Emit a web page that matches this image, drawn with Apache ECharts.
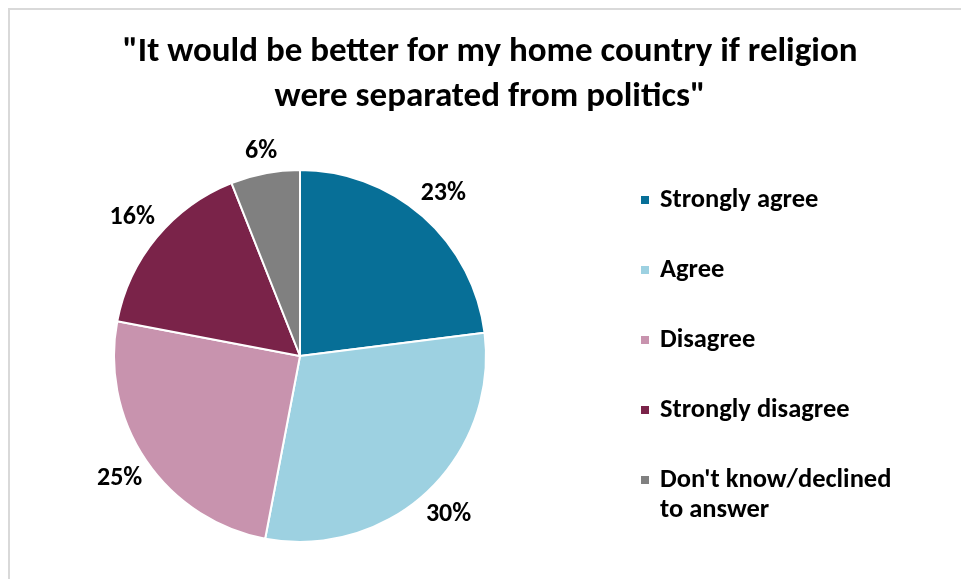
<!DOCTYPE html>
<html>
<head>
<meta charset="utf-8">
<script src="https://cdn.jsdelivr.net/npm/echarts@6/dist/echarts.min.js"></script>
<style>
  html, body { margin: 0; padding: 0; background: #ffffff; }
  #chart { width: 961px; height: 579px; }
</style>
</head>
<body>
<div id="chart"></div>
<script>
// Survey answers, in percent
const categories = ['Strongly agree', 'Agree', 'Disagree', 'Strongly disagree', "Don't know/declined to answer"];
const values = [23, 30, 25, 16, 6];
const colors = ['#076f97', '#9dd1e1', '#c893ae', '#7a2349', '#808080'];
const titleLines = ['"It would be better for my home country if religion', 'were separated from politics"'];

const FONT = 'Carlito, Lato, "Open Sans", sans-serif';
const pieCenter = [300, 356];
const pieRadius = 186;

// mid angle of each slice, measured clockwise from 12 o'clock
const total = values.reduce((a, b) => a + b, 0);
const midAngles = [];
let acc = 0;
values.forEach(v => { midAngles.push((acc + v / 2) / total * 2 * Math.PI); acc += v; });

const chart = echarts.init(document.getElementById('chart'), null, { renderer: 'canvas' });

const legendText = {
  color: '#000000', fontFamily: FONT, fontWeight: 'bold', fontSize: 26.5, lineHeight: 30,
  padding: [0, 0, 0, 5]
};

chart.setOption({
  backgroundColor: '#ffffff',
  animation: false,
  color: colors,
  title: {
    text: titleLines.join('\n'),
    left: 490,
    top: 30,
    textAlign: 'center',
    padding: 0,
    textStyle: { color: '#000000', fontFamily: FONT, fontWeight: 'bold', fontSize: 35, lineHeight: 45 }
  },
  graphic: [{
    type: 'rect',
    shape: { x: 9, y: 9, width: 1200, height: 1200 },
    style: { fill: 'none', stroke: '#d9d9d9', lineWidth: 2 },
    silent: true
  }],
  legend: [{
    orient: 'vertical',
    left: 639,
    top: 185,
    padding: 0,
    itemGap: 40,
    itemWidth: 10,
    itemHeight: 10,
    icon: 'rect',
    selectedMode: false,
    data: categories.slice(0, 4),
    textStyle: legendText
  }, {
    // two-line entry: an empty first row keeps the swatch level with the first text line
    orient: 'vertical',
    left: 639,
    top: 435,
    padding: 0,
    itemWidth: 10,
    itemHeight: 10,
    icon: 'rect',
    selectedMode: false,
    data: categories.slice(4),
    formatter: name => '{gap| }\n{t|' + name.replace('declined ', 'declined}\n{t|') + '}',
    textStyle: Object.assign({}, legendText, {
      rich: {
        gap: { fontSize: 10, lineHeight: 30 },
        t: { color: '#000000', fontFamily: FONT, fontWeight: 'bold', fontSize: 26.5, lineHeight: 30 }
      }
    })
  }],
  series: [{
    type: 'pie',
    center: pieCenter,
    radius: pieRadius,
    startAngle: 90,
    clockwise: true,
    avoidLabelOverlap: false,
    itemStyle: { borderColor: '#ffffff', borderWidth: 2 },
    emphasis: { disabled: true },
    label: {
      show: true,
      position: 'outside',
      formatter: '{c}%',
      color: '#000000',
      fontFamily: FONT,
      fontWeight: 'bold',
      fontSize: 26
    },
    labelLine: { show: false },
    labelLayout: function (params) {
      const a = midAngles[params.dataIndex];
      const ux = Math.sin(a), uy = -Math.cos(a);
      const w = params.labelRect.width, h = params.labelRect.height;
      const d = pieRadius + 6 + (w / 2) * Math.abs(ux) + (h / 2) * Math.abs(uy);
      return {
        x: pieCenter[0] + d * ux,
        y: pieCenter[1] + d * uy,
        align: 'center',
        verticalAlign: 'middle'
      };
    },
    data: categories.map((name, i) => ({ name: name, value: values[i] }))
  }]
});
</script>
</body>
</html>
